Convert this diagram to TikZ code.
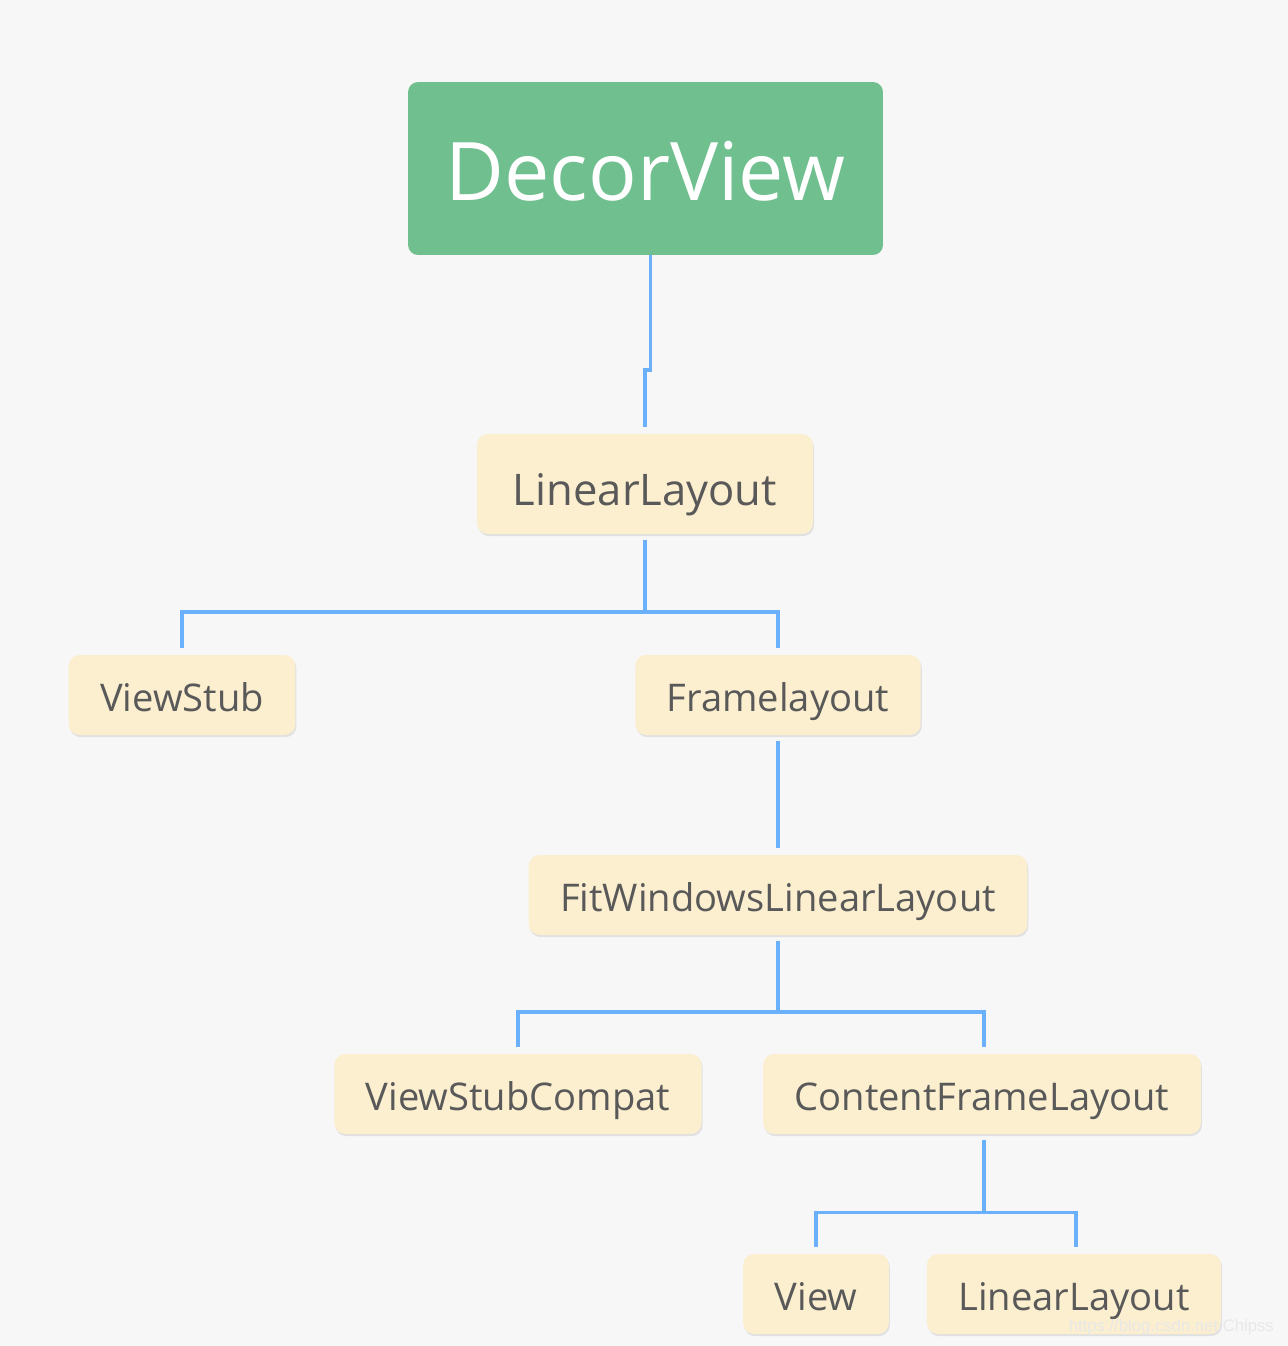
\documentclass[tikz,border=0pt]{standalone}
\usepackage{fontspec}
\setmainfont{Open Sans}
\usepackage{tikz}
\usetikzlibrary{shadows}
\definecolor{bg}{HTML}{F7F7F7}
\definecolor{decor}{HTML}{70BF8F}
\definecolor{boxfill}{HTML}{FCEFCF}
\definecolor{boxtext}{HTML}{595959}
\definecolor{linkblue}{HTML}{6AB0FA}
\tikzset{
  root/.style={
    rectangle,
    rounded corners=0.2cm,
    minimum width=9.5cm,
    minimum height=3.46cm,
    text height=36pt,
    text depth=0pt,
    align=center,
    fill=decor,
    text=white,
    font=\fontsize{46}{54}\selectfont
    },
  view/.style={
    rectangle,
    rounded corners=0.22cm,
    minimum height=1.6cm,
    text height=18.5pt,
    text depth=0pt,
    inner xsep=0.63cm,
    align=center,
    fill=boxfill,
    text=boxtext,
    font=\fontsize{21.7}{26}\selectfont,
    drop shadow={shadow xshift=0.6pt, shadow yshift=-1.2pt, opacity=0.18}
    },
  bigview/.style={
    view,
    minimum height=2cm,
    text height=24.5pt,
    inner xsep=0.72cm,
    font=\fontsize{24.8}{30}\selectfont
    },
  link/.style={draw=linkblue, line width=2.1pt},
}

\begin{document}
\begin{tikzpicture}[
            x = 0.02cm, % one unit is one pixel of the layout
            y = -0.02cm,
            shorten < = 3pt, % keep the line off the box
            shorten > = 4pt
        ]

         \fill[bg] (0,0) rectangle (1288,1346);
         \useasboundingbox (0,0) rectangle (1288,1346);

         \node[root] (dv) at (645.5,168.5) {DecorView};
         \node[bigview] (ll) at (645,484) {LinearLayout};
         \node[view] (vs) at (182,695) {ViewStub};
         \node[view] (fl) at (778,695) {Framelayout};
         \node[view] (fw) at (778,895) {FitWindowsLinearLayout};
         \node[view] (vsc) at (518,1094) {ViewStubCompat};
         \node[view] (cf) at (982,1094) {ContentFrameLayout};
         \node[view] (v) at (816,1294) {View};
         \node[view] (ll2) at (1074,1294) {LinearLayout};

         \path[link, shorten < = 0pt] ([xshift=0.1cm]dv.south) -- ++(0,115) -| (ll.north);
         \path[link] (ll.south) -- (ll.south |- 0,612) -| (vs.north);
         \path[link] (ll.south) -- (ll.south |- 0,612) -| (fl.north);
         \path[link] (fl.south) -- (fw.north);
         \path[link] (fw.south) -- (fw.south |- 0,1012) -| (vsc.north);
         \path[link] (fw.south) -- (fw.south |- 0,1012) -| ([xshift=0.04cm]cf.north);
         \path[link] ([xshift=0.04cm]cf.south) -- ++(0,78) -| (v.north);
         \path[link] ([xshift=0.04cm]cf.south) -- ++(0,78) -| ([xshift=0.04cm]ll2.north);

         \node[text=white!82!gray, font=\fontsize{9.5}{11}\selectfont\fontspec{Liberation Sans}, anchor=east] (wm) at (1280,1327) {https://blog.csdn.net/Chipss};
  \end{tikzpicture}
\end{document}
